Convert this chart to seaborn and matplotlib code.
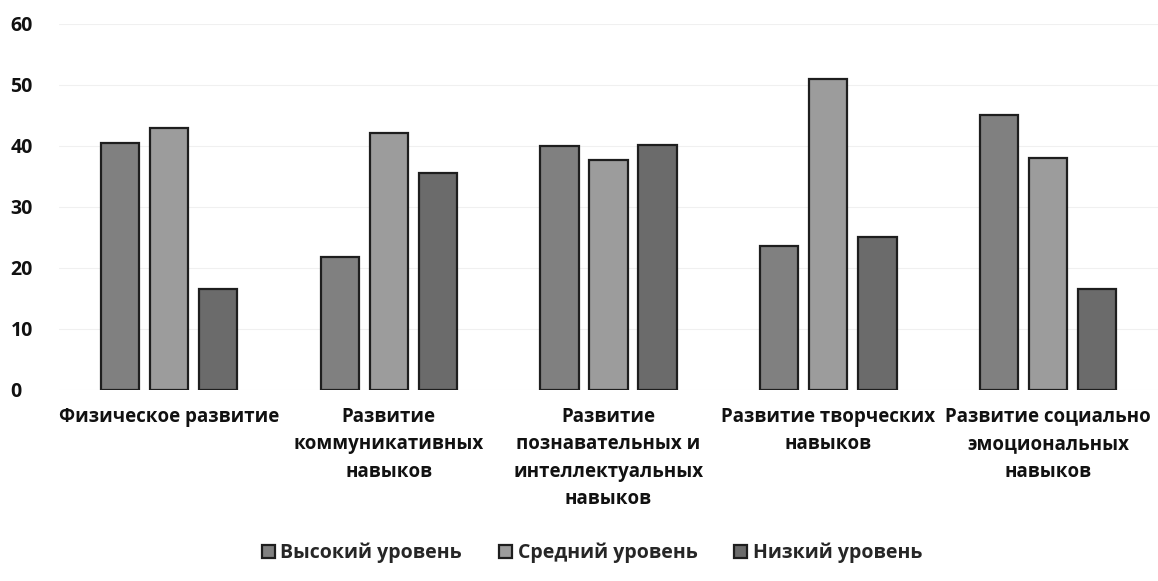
import pandas as pd
import matplotlib.pyplot as plt
import seaborn as sns

# Данные диаграммы
категории = [
    "Физическое развитие",
    "Развитие\nкоммуникативных\nнавыков",
    "Развитие\nпознавательных и\nинтеллектуальных\nнавыков",
    "Развитие творческих\nнавыков",
    "Развитие социально\nэмоциональных\nнавыков",
]
уровни = ["Высокий уровень", "Средний уровень", "Низкий уровень"]
высокий = [40.5, 21.8, 40.0, 23.6, 45.1]
средний = [43.0, 42.1, 37.7, 51.0, 38.0]
низкий = [16.6, 35.6, 40.2, 25.1, 16.6]
деления_y = [0, 10, 20, 30, 40, 50, 60]

цвета = ["#808080", "#9c9c9c", "#6b6b6b"]

df = pd.DataFrame({
    "категория": категории * 3,
    "уровень": [уровни[0]] * 5 + [уровни[1]] * 5 + [уровни[2]] * 5,
    "значение": высокий + средний + низкий,
})

sns.set_theme(style="white")
plt.rcParams['font.family'] = ['Open Sans', 'DejaVu Sans']

fig = plt.figure(figsize=(11.58, 5.81), dpi=100)
ax = fig.add_axes([0.051, 0.329, 0.949, 0.63])

sns.barplot(data=df, x="категория", y="значение", hue="уровень",
            palette=цвета, width=0.67, gap=0.22, edgecolor="#1e1e1e",
            linewidth=1.6, ax=ax)

ax.set_ylim(0, 60)
ax.set_xlim(-0.5, 4.5)
ax.set_yticks(деления_y)
ax.set_yticklabels([str(v) for v in деления_y], fontsize=14, fontweight="bold", color="#111111")
ax.set_xticks(range(len(категории)))
ax.set_xticklabels(категории, fontsize=13.5, fontweight="bold", color="#111111",
                   linespacing=1.5)
ax.tick_params(axis="y", length=0, pad=35)
ax.tick_params(axis="x", length=0, pad=12)
for lbl in ax.get_yticklabels():
    lbl.set_horizontalalignment("left")
ax.set_xlabel("")
ax.set_ylabel("")
ax.yaxis.grid(True, color="#f0f0f0", linewidth=0.8)
ax.set_axisbelow(True)
for s in ax.spines.values():
    s.set_visible(False)

ax.legend(loc="center", bbox_to_anchor=(0.485, -0.445), ncol=3, frameon=False,
          prop={"size": 14, "weight": "bold"}, handlelength=0.65, handleheight=0.65,
          handletextpad=0.3, columnspacing=1.9)

plt.savefig("out.png", dpi=100)
plt.close()
